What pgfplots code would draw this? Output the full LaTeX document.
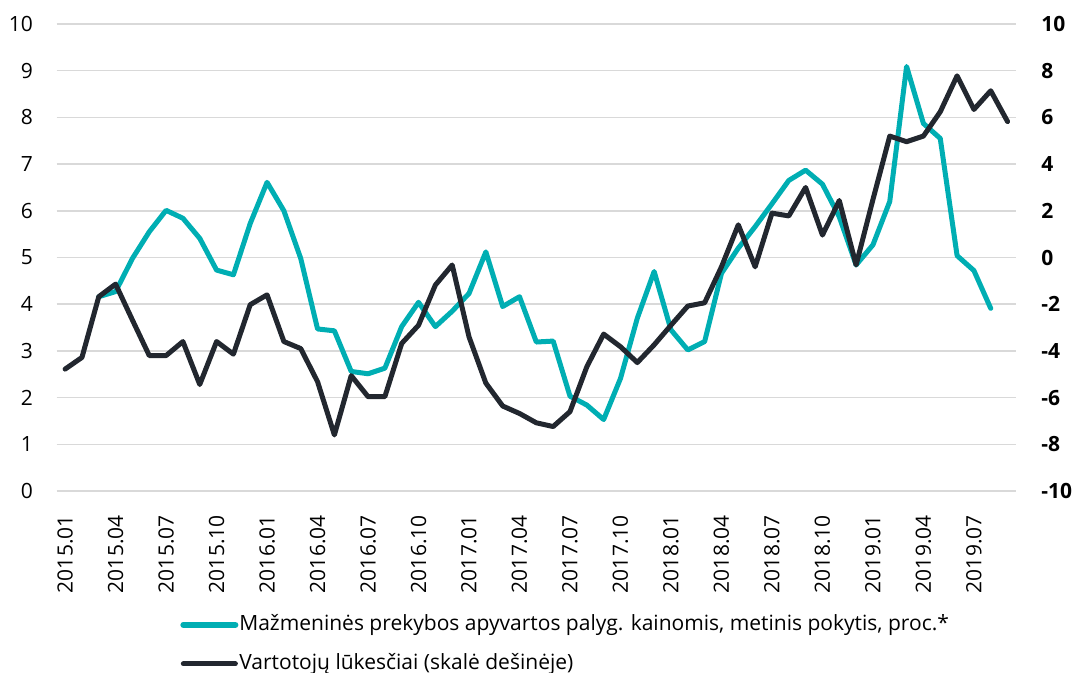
\documentclass[border=0pt]{standalone}
\usepackage{fontspec}
\setmainfont{Open Sans}
\usepackage{pgfplots}
\pgfplotsset{compat=1.18}
\definecolor{tealc}{HTML}{00AEB3}
\definecolor{darkc}{HTML}{22272F}
\definecolor{gridc}{HTML}{D9D9D9}

\pgfplotstableread{
x y
2 4.16
3 4.27
4 4.98
5 5.55
6 6.01
7 5.84
8 5.41
9 4.73
10 4.63
11 5.73
12 6.61
13 6.00
14 4.98
15 3.47
16 3.43
17 2.56
18 2.51
19 2.63
20 3.52
21 4.04
22 3.52
23 3.85
24 4.23
25 5.12
26 3.95
27 4.16
28 3.19
29 3.21
30 2.03
31 1.84
32 1.53
33 2.41
34 3.70
35 4.70
36 3.45
37 3.02
38 3.20
39 4.66
40 5.20
41 5.66
42 6.15
43 6.65
44 6.87
45 6.57
46 5.87
47 4.84
48 5.27
49 6.20
50 9.09
51 7.87
52 7.55
53 5.04
54 4.72
55 3.91
}\retail

\pgfplotstableread{
x y
0 -4.78
1 -4.28
2 -1.68
3 -1.14
4 -2.68
5 -4.20
6 -4.20
7 -3.60
8 -5.44
9 -3.60
10 -4.14
11 -2.02
12 -1.60
13 -3.60
14 -3.90
15 -5.32
16 -7.60
17 -5.06
18 -5.96
19 -5.96
20 -3.68
21 -2.90
22 -1.18
23 -0.32
24 -3.40
25 -5.38
26 -6.36
27 -6.68
28 -7.08
29 -7.24
30 -6.60
31 -4.68
32 -3.28
33 -3.82
34 -4.50
35 -3.74
36 -2.90
37 -2.08
38 -1.94
39 -0.40
40 1.40
41 -0.40
42 1.90
43 1.78
44 3.00
45 0.96
46 2.44
47 -0.32
48 2.48
49 5.20
50 4.96
51 5.20
52 6.24
53 7.78
54 6.34
55 7.14
56 5.82
}\expect

\begin{document}
\begin{tikzpicture}
\pgfplotsset{
  common/.style={
    scale only axis, width=479.65pt, height=233.5pt,
    xmin=-0.5, xmax=56.5,
    /pgf/number format/assume math mode=true,
    axis line style={draw=none},
    clip=false,
  }
}
\begin{axis}[common,
  ymin=0, ymax=10, ytick={0,1,...,10},
  ymajorgrids, grid style={gridc, line width=0.75pt},
  ytick style={draw=none},
  yticklabel style={font=\fontsize{10.5}{12}\selectfont, anchor=east, inner xsep=11.65pt, inner ysep=0pt},
  xtick={0,3,...,54},
  xticklabels={2015.01,2015.04,2015.07,2015.10,2016.01,2016.04,2016.07,2016.10,2017.01,2017.04,2017.07,2017.10,2018.01,2018.04,2018.07,2018.10,2019.01,2019.04,2019.07},
  xticklabel style={font=\fontsize{10.5}{12}\selectfont, rotate=90, anchor=east, inner xsep=12pt, inner ysep=0pt},
  xtick style={draw=none},
  extra x ticks={-0.5,2.5,...,56.5},
  extra x tick labels={},
  extra x tick style={tick align=outside, major tick length=4pt, tick style={draw=gridc, line width=0.75pt}},
]
\addplot[tealc, line width=2.5pt, line join=round, line cap=round] table[x=x,y=y] {\retail};
\end{axis}
\begin{axis}[common,
  ymin=-10, ymax=10, ytick={-10,-8,...,10},
  axis x line=none, axis y line*=right,
  ytick style={draw=none},
  yticklabel style={font=\fontsize{10.5}{12}\selectfont\bfseries, anchor=west, inner xsep=12.5pt, inner ysep=0pt},
  legend cell align=left,
  legend image code/.code={\path (0pt,0pt) -- (26pt,0pt); \draw[#1] (1.5pt,0pt) -- (25pt,0pt);},
  legend style={draw=none, fill=none, at={(0.1285,-0.2634)}, anchor=north west,
    font=\fontsize{10.5}{12}\selectfont, inner sep=0pt, row sep=9pt, column sep=0pt,
    nodes={inner xsep=0.5pt, inner ysep=0pt, text height=8pt, text depth=2.5pt}},
]
\addlegendimage{tealc, line width=3pt, line cap=round}
\addlegendentry{Mažmeninės prekybos apyvartos palyg. kainomis, metinis pokytis, proc.*}
\addplot[darkc, line width=2.5pt, line join=round, line cap=round] table[x=x,y=y] {\expect};
\addlegendentry{Vartotojų lūkesčiai (skalė dešinėje)}
\end{axis}
\pgfresetboundingbox
\path (-28.35pt,-91pt) rectangle (510.65pt,245.5pt);
\end{tikzpicture}
\end{document}
